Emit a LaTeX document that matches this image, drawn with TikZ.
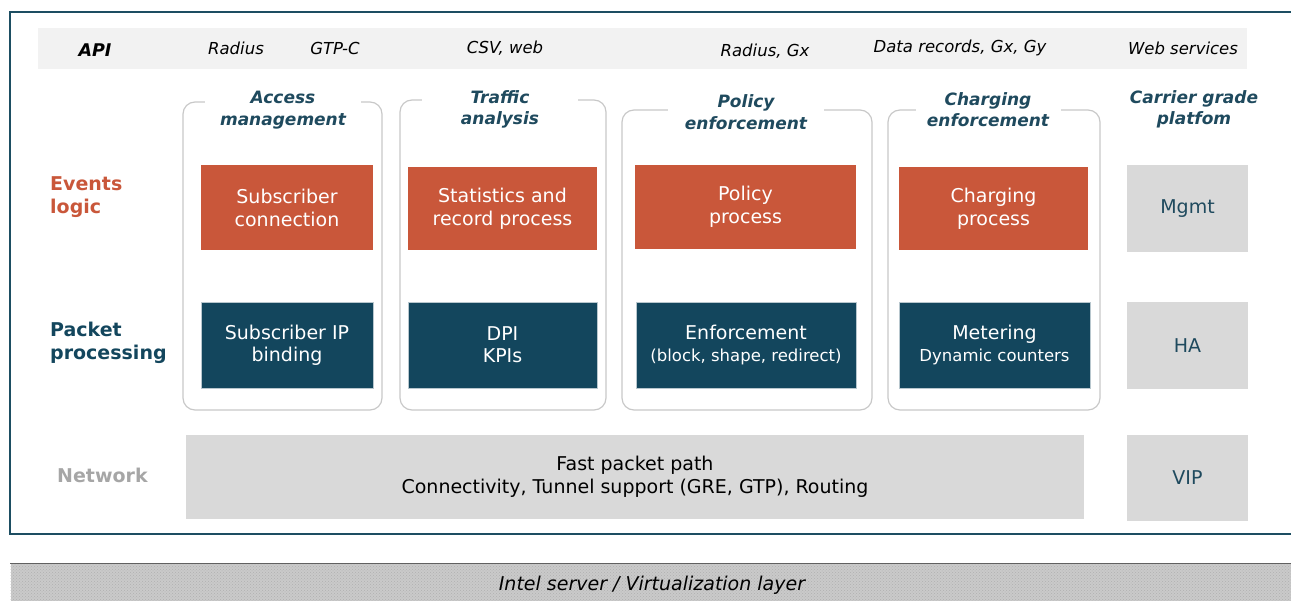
\documentclass[tikz,border=0pt]{standalone}
\usepackage{fontspec}
\setmainfont{DejaVu Sans}
\usetikzlibrary{patterns}
\definecolor{framec}{HTML}{1D4E62}
\definecolor{bandc}{HTML}{F2F2F2}
\definecolor{orangec}{HTML}{C9573A}
\definecolor{navyc}{HTML}{13465D}
\definecolor{greyc}{HTML}{D9D9D9}
\definecolor{titlec}{HTML}{1F4A5E}
\definecolor{grpc}{HTML}{C8C8C8}
\definecolor{netc}{HTML}{A6A6A6}
\definecolor{barc}{HTML}{CACACA}
\definecolor{bardot}{HTML}{B0B0B0}
\tikzset{
  apitxt/.style={font=\fontsize{16.5}{19}\selectfont\itshape, text=black, inner sep=0pt},
  grp/.style={draw=grpc, line width=1.2pt, rounded corners=12pt},
  grptitle/.style={fill=white, text=titlec, font=\fontsize{17}{21.5}\selectfont\bfseries\itshape, align=center, minimum width=156pt, inner sep=1pt},
  obox/.style={fill=orangec, text=white, font=\fontsize{19}{23}\selectfont, align=center, inner sep=0pt},
  nbox/.style={fill=navyc, draw=white!70!navyc, line width=0.6pt, text=white, font=\fontsize{19}{22}\selectfont, align=center, inner sep=0pt},
  gbox/.style={fill=greyc, text=titlec, font=\fontsize{19}{23}\selectfont, align=center, inner sep=0pt},
  sidelab/.style={font=\fontsize{19}{22.5}\selectfont\bfseries, align=left, anchor=west, inner sep=0pt},
}
\newcommand{\smalltxt}{\fontsize{16.5}{19}\selectfont}
\begin{document}
\begin{tikzpicture}[x=1pt,y=-1pt]
\useasboundingbox (0,0) rectangle (1291,601);
\clip (0,0) rectangle (1291,601);
% outer frame
\draw[framec, line width=2pt] (10,12) rectangle (1310,534);
% API band
\fill[bandc] (38,28) rectangle (1247,69);
\node[apitxt, font=\fontsize{17.5}{20}\selectfont\bfseries\itshape] (api) at (95,50) {API};
\node[apitxt] (a1) at (236,48) {Radius};
\node[apitxt] (a2) at (335,48) {GTP-C};
\node[apitxt] (a3) at (505,48) {CSV, web};
\node[apitxt] (a4) at (765,51) {Radius, Gx};
\node[apitxt] (a5) at (960,48) {Data records, Gx, Gy};
\node[apitxt] (a6) at (1183,48) {Web services};
% group boxes
\draw[grp] (183,102) rectangle (382,410);
\draw[grp] (400,100) rectangle (606,410);
\draw[grp] (622,110) rectangle (872,410);
\draw[grp] (888,110) rectangle (1100,410);
\node[grptitle] (t1) at (283,110) {Access\\management};
\node[grptitle] (t2) at (500,109.5) {Traffic\\analysis};
\node[grptitle] (t3) at (746,112) {Policy\\enforcement};
\node[grptitle, minimum width=145pt] (t4) at (988,109.5) {Charging\\enforcement};
\node[grptitle, fill=none] (t5) at (1194,109.5) {Carrier grade\\platfom};
% side labels
\node[sidelab, text=orangec] (ev) at (50,197) {Events\\logic};
\node[sidelab, text=navyc] (pp) at (50,343) {Packet\\processing};
\node[sidelab, text=netc] (nw) at (57,475) {Network};
% orange boxes
\node[obox, minimum width=172pt, minimum height=85pt] (o1) at (287,207.5) {Subscriber\\connection};
\node[obox, minimum width=189pt, minimum height=83pt] (o2) at (502.5,208.5) {Statistics and\\record process};
\node[obox, minimum width=221pt, minimum height=84pt] (o3) at (745.5,207) {Policy\\process};
\node[obox, minimum width=189pt, minimum height=83pt] (o4) at (993.5,208.5) {Charging\\process};
% navy boxes
\node[nbox, minimum width=172pt, minimum height=86pt] (n1) at (287,345) {Subscriber IP\\binding};
\node[nbox, minimum width=189pt, minimum height=86pt] (n2) at (502.5,345) {DPI\\KPIs};
\node[nbox, minimum width=220pt, minimum height=86pt] (n3) at (746,345) {Enforcement\\{\smalltxt(block, shape, redirect)}};
\node[nbox, minimum width=191pt, minimum height=86pt] (n4) at (994.5,345) {Metering\\{\smalltxt Dynamic counters}};
% grey boxes
\node[gbox, minimum width=121pt, minimum height=87pt] (mg) at (1187.5,208.5) {Mgmt};
\node[gbox, minimum width=121pt, minimum height=87pt] (ha) at (1187.5,345.5) {HA};
\node[gbox, minimum width=121pt, minimum height=86pt] (vip) at (1187.5,478) {VIP};
\node[gbox, text=black, minimum width=898pt, minimum height=84pt] (fast) at (635,477) {Fast packet path\\Connectivity, Tunnel support (GRE, GTP), Routing};
% bottom bar
\node[fill=barc, postaction={pattern=crosshatch dots, pattern color=bardot}, minimum width=1300pt, minimum height=39pt, inner sep=0pt] (bar) at (660.5,582.5) {};
\draw[gray!75!black, line width=1pt] (10,563) -- (1291,563);
\node[font=\fontsize{19}{22}\selectfont\itshape, inner sep=0pt] (bartxt) at (652,585) {Intel server / Virtualization layer};
\end{tikzpicture}
\end{document}
